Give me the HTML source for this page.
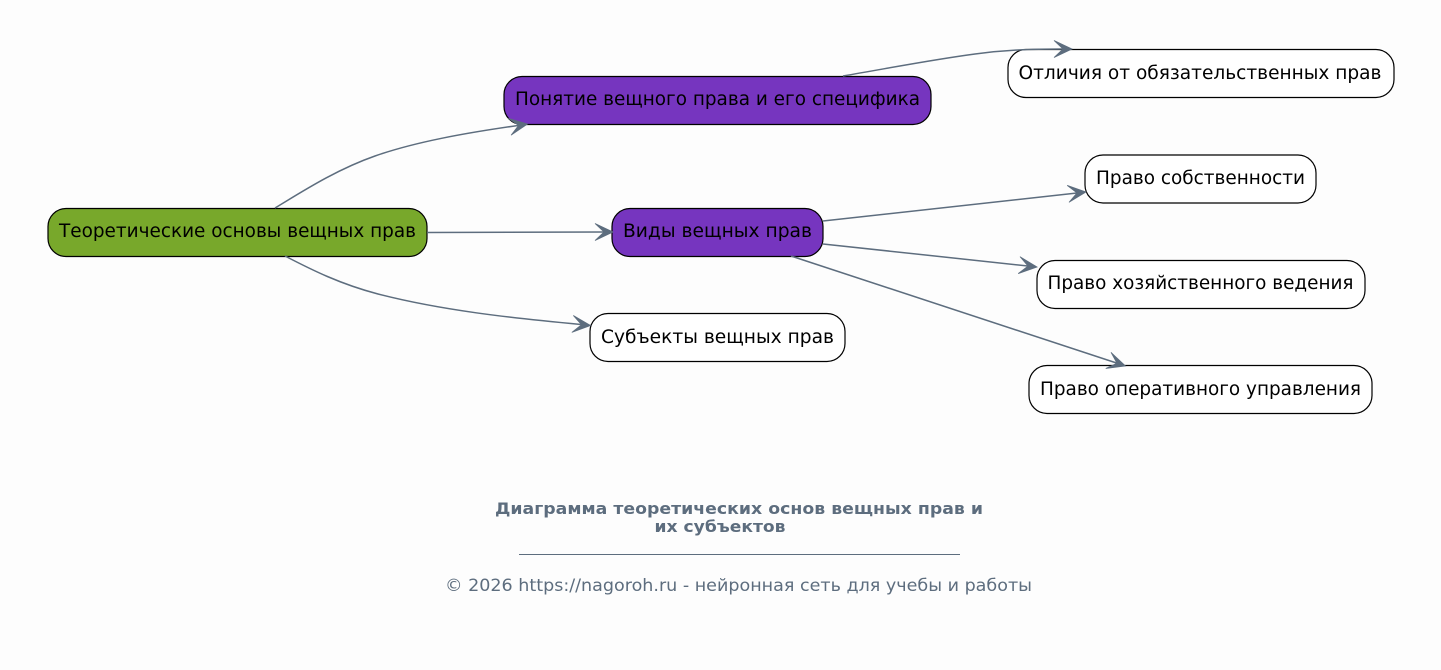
<!DOCTYPE html>
<html><head><meta charset="utf-8">
<style>
html,body{margin:0;padding:0;background:#fdfdfd}
svg{display:block}
text{font-family:"DejaVu Sans",sans-serif}
.n{font-size:18.67px;fill:#000;text-anchor:middle}
.e{fill:none;stroke:#5d6d7e;stroke-width:1.5}
.a{fill:#5d6d7e;stroke:#5d6d7e;stroke-width:.8;stroke-linejoin:miter}
.b{stroke:#000;stroke-width:1.2}
</style></head>
<body>
<svg width="1441" height="670" viewBox="0 0 1441 670" xmlns="http://www.w3.org/2000/svg">
<rect width="1441" height="670" fill="#fdfdfd"/>
<!-- nodes -->
<rect class="b" x="48" y="208.500" width="379" height="48" rx="18" fill="#78a82b"/>
<text class="n" x="237.500" y="237" textLength="357" lengthAdjust="spacingAndGlyphs">Теоретические основы вещных прав</text>
<rect class="b" x="504" y="76.500" width="427" height="48" rx="18" fill="#7635bf"/>
<text class="n" x="717.500" y="105" textLength="405" lengthAdjust="spacingAndGlyphs">Понятие вещного права и его специфика</text>
<rect class="b" x="612" y="208.500" width="211" height="48" rx="18" fill="#7635bf"/>
<text class="n" x="717.500" y="237" textLength="189" lengthAdjust="spacingAndGlyphs">Виды вещных прав</text>
<rect class="b" x="590" y="313.500" width="255" height="48" rx="18" fill="#fff"/>
<text class="n" x="717.500" y="343" textLength="233" lengthAdjust="spacingAndGlyphs">Субъекты вещных прав</text>
<rect class="b" x="1008" y="49.500" width="386" height="48" rx="18" fill="#fff"/>
<text class="n" x="1200" y="79" textLength="363" lengthAdjust="spacingAndGlyphs">Отличия от обязательственных прав</text>
<rect class="b" x="1085" y="155" width="231" height="48" rx="18" fill="#fff"/>
<text class="n" x="1200.500" y="184" textLength="209" lengthAdjust="spacingAndGlyphs">Право собственности</text>
<rect class="b" x="1037" y="260.500" width="328" height="48" rx="18" fill="#fff"/>
<text class="n" x="1200.500" y="289" textLength="306" lengthAdjust="spacingAndGlyphs">Право хозяйственного ведения</text>
<rect class="b" x="1029" y="365.500" width="343" height="48" rx="18" fill="#fff"/>
<text class="n" x="1200.500" y="395" textLength="321" lengthAdjust="spacingAndGlyphs">Право оперативного управления</text>
<!-- edges -->
<path class="e" d="M275,208C300,193 335,170 375,156C415,142 465,133 518,125.500"/>
<path class="a" transform="translate(527.500,124) rotate(-9)" d="M0,0L-18,-8.500L-9,0L-18,8.500Z"/>
<path class="e" d="M427,232.500C470,232.500 530,232 604,232"/>
<path class="a" transform="translate(613,232)" d="M0,0L-18,-8.500L-9,0L-18,8.500Z"/>
<path class="e" d="M285,256C312,270 340,284 378,294C440,310 510,318 581,324.500"/>
<path class="a" transform="translate(590.500,325.500) rotate(5)" d="M0,0L-18,-8.500L-9,0L-18,8.500Z"/>
<path class="e" d="M843,76C890,68 930,60 975,54C1005,50 1030,49 1063,49"/>
<path class="a" transform="translate(1072,49)" d="M0,0L-18,-8.500L-9,0L-18,8.500Z"/>
<path class="e" d="M823,221L1077,193"/>
<path class="a" transform="translate(1086,192) rotate(-6)" d="M0,0L-18,-8.500L-9,0L-18,8.500Z"/>
<path class="e" d="M823,244L1028,266"/>
<path class="a" transform="translate(1037,267) rotate(6)" d="M0,0L-18,-8.500L-9,0L-18,8.500Z"/>
<path class="e" d="M791,256L1116.500,363"/>
<path class="a" transform="translate(1125.500,366) rotate(18)" d="M0,0L-18,-8.500L-9,0L-18,8.500Z"/>
<!-- footer -->
<g fill="#5d6d7e" text-anchor="middle">
<text x="739" y="514" font-size="16" font-weight="bold" textLength="488" lengthAdjust="spacingAndGlyphs">Диаграмма теоретических основ вещных прав и</text>
<text x="720" y="532" font-size="16" font-weight="bold" textLength="131" lengthAdjust="spacingAndGlyphs">их субъектов</text>
<text x="738.500" y="591" font-size="16.500" textLength="587" lengthAdjust="spacingAndGlyphs">© 2026 https://nagoroh.ru - нейронная сеть для учебы и работы</text>
</g>
<rect x="519" y="554" width="441" height="1" fill="#5d6d7e"/>
</svg>
</body></html>
